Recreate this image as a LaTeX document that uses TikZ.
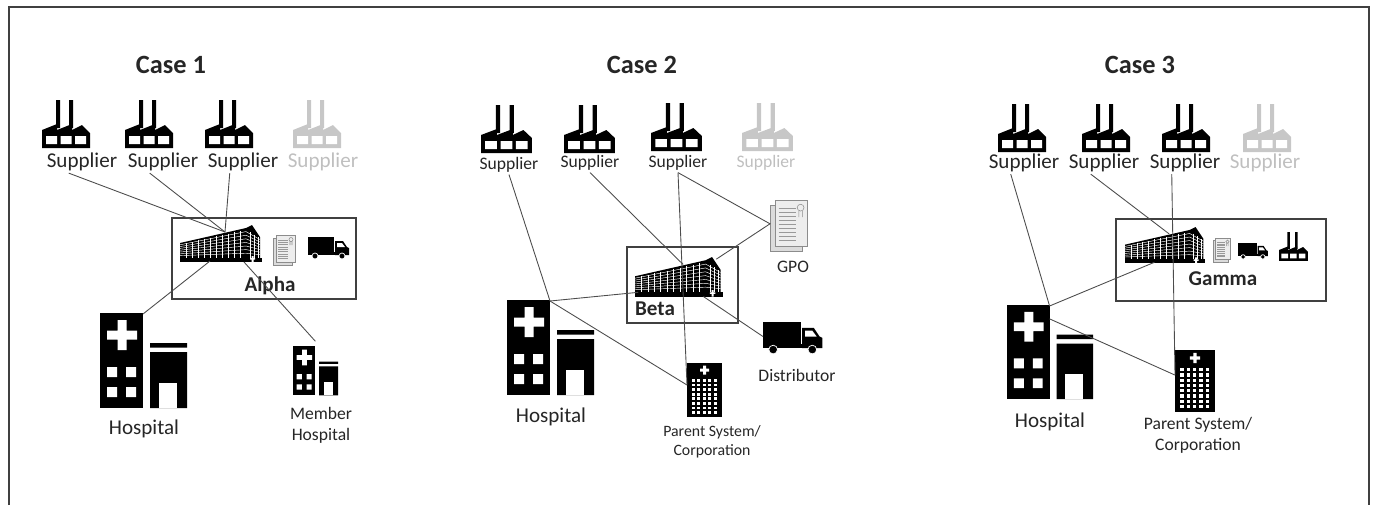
\documentclass[tikz,border=0pt]{standalone}
\usepackage{fontspec}
\setmainfont{Carlito}
\usepackage{tikz}

\tikzset{
  factory/.pic={
    \fill[#1] (0,48) -- (0,30) -- (15,24) -- (15,30) -- (30,24) -- (30,30) -- (40,25) -- (48,33) -- (48,48) -- cycle;
    \fill[#1] (14,0) rectangle (18,28) (27,0) rectangle (31,28);
    \fill[white] (4,36) rectangle (15,44) (18.5,36) rectangle (29.5,44) (33,36) rectangle (44,44);
  },
  building/.pic={
    \fill (0,18) -- (66,3) -- (72,0) -- (80,12) -- (80,34) -- (0,34) -- cycle;
    \fill (0,33) rectangle (82,37);
    \foreach \t in {0.12,0.24,...,0.96}
      \draw[white, line width=0.25pt] (0,{18+15*\t}) -- (66,{3+30*\t}) -- (80,{12+21*\t});
    \foreach \x in {6,12,...,60}
      \draw[white, line width=0.25pt] (\x,{19.5-15*\x/66}) -- (\x,33);
    \foreach \x in {70,74,78}
      \draw[white, line width=0.25pt] (\x,{4.5+9*(\x-66)/14}) -- (\x,33);
    \fill[white] (71.5,31) rectangle (73.5,37) (70,33) rectangle (75,34.5);
    \coordinate (-n) at (45,7);
    \coordinate (-ne) at (76,2);
    \coordinate (-sw) at (3,33);
    \coordinate (-s) at (30,36);
    \coordinate (-se) at (64,37);
  },
  doc/.pic={
    \filldraw[fill=black!14, draw=black!45, line width=0.3pt] (0,3) rectangle (19,30);
    \filldraw[fill=black!7, draw=black!45, line width=0.3pt] (3,0) rectangle (22,27);
    \foreach \k in {0,...,8}
      \draw[black!40, line width=0.3pt] (5,{5+2.3*\k}) -- (15,{5+2.3*\k});
    \draw[black!45, line width=0.3pt] (18,4.5) circle[radius=2] (17,6.5) -- (17,10) (19,6.5) -- (19,10);
    \coordinate (-w) at (0,14);
  },
  truck/.pic={
    \fill (0,0) rectangle (26,16);
    \fill (27,4) -- (35,4) -- (39,10) -- (41,11) -- (41,18) -- (27,18) -- cycle;
    \fill[white] (29,6) -- (34,6) -- (37,10) -- (29,10) -- cycle;
    \fill (0,15) rectangle (41,18);
    \filldraw[draw=white, line width=0.4pt] (7,19) circle[radius=3] (34,19) circle[radius=3];
    \coordinate (-w) at (0,10);
  },
  hospital/.pic={
    \fill (0,0) rectangle (43,95);
    \fill[white] (17.5,7) rectangle (26.5,37) (7,17.5) rectangle (37,26.5);
    \fill[white] (7,54) rectangle (17,64) (26,54) rectangle (36,64) (7,74) rectangle (17,84) (26,74) rectangle (36,84);
    \fill (50,30) rectangle (87,34.5) (50,39) rectangle (87,95);
    \fill[white] (59,70) rectangle (77,95);
    \coordinate (-ne) at (43,1);
    \coordinate (-e) at (43,14);
  },
  tower/.pic={
    \fill (0,0) rectangle (35,54);
    \fill[white] (16,2.5) rectangle (19,11.5) (13,5.5) rectangle (22,8.5);
    \foreach \i in {0,...,4}
      \foreach \j in {0,...,7}
        \fill[white] ({4.5+5.6*\i},{16+4.6*\j}) rectangle ++(3,2.8);
    \coordinate (-w) at (0,22);
  }
}

\begin{document}
\begin{tikzpicture}[x=0.02cm, y=-0.02cm,
    link/.style={draw=black!70, line width=0.5pt},
    box/.style={draw=black!75, line width=0.6pt},
    txt/.style={inner sep=1pt, text=black!85},
    faded/.style={inner sep=1pt, text=black!25},
    headtext/.style={font=\fontsize{15}{18}\selectfont\bfseries},
    bigtext/.style={font=\fontsize{12}{14}\selectfont},
    boldname/.style={font=\fontsize{12}{14}\selectfont\bfseries},
    smalltext/.style={font=\fontsize{10}{12}\selectfont}]
	\useasboundingbox (0,0) rectangle (1375,505);
	\draw[black!75, line width=0.8pt] (9,505) -- (9,7) -- (1369,7) -- (1369,505);

	% Case 1
	\node[txt, headtext] (a-title) at (171,65) {Case 1};
	\pic at (42,100) {factory=black};
	\pic at (125,100) {factory=black};
	\pic at (205,100) {factory=black};
	\pic at (293,100) {factory=black!22};
	\node[txt, bigtext] (a-s1) at (82,162) {Supplier};
	\node[txt, bigtext] (a-s2) at (163,162) {Supplier};
	\node[txt, bigtext] (a-s3) at (243,162) {Supplier};
	\node[faded, bigtext] (a-s4) at (323,162) {Supplier};
	\draw[box] (172,218) rectangle (356,299);
	\pic (a-bldg) at (180,225) {building};
	\pic (a-doc) at (273,235) {doc};
	\pic (a-truck) at (308,237) {truck};
	\node[txt, boldname] (a-name) at (270,286) {Alpha};
	\pic (a-hosp) at (100,313) {hospital};
	\node[txt, bigtext] (a-hl) at (144,429) {Hospital};
	\pic[scale=0.52] (a-mem) at (293,346) {hospital};
	\node[txt, smalltext, align=center] (a-ml) at (321,425) {Member\\Hospital};
	\draw[link] (a-s1.-140) -- (a-bldg-n);
	\draw[link] (a-s2.-140) -- (a-bldg-n);
	\draw[link] (a-s3.-140) -- (a-bldg-n);
	\draw[link] (a-hosp-ne) -- (a-bldg-s);
	\draw[link] ([yshift=3pt]a-mem-ne) -- (a-bldg-se);

	% Case 2
	\node[txt, headtext] (b-title) at (642,65) {Case 2};
	\pic[xscale=1.06] at (481,105) {factory=black};
	\pic[xscale=1.06] at (564,105) {factory=black};
	\pic[xscale=1.06] at (651,103) {factory=black};
	\pic[xscale=1.06] at (742,103) {factory=black!22};
	\node[txt, smalltext] (b-s1) at (509,165) {Supplier};
	\node[txt, smalltext] (b-s2) at (590,163) {Supplier};
	\node[txt, smalltext] (b-s3) at (678,163) {Supplier};
	\node[faded, smalltext] (b-s4) at (766,163) {Supplier};
	\pic[scale=1.7] (b-gpo) at (770,200) {doc};
	\node[txt, smalltext] (b-gl) at (793,267) {GPO};
	\draw[box] (627,247) rectangle (738,323);
	\pic[scale=1.07] (b-bldg) at (635,257) {building};
	\node[txt, boldname] (b-name) at (655,309) {Beta};
	\pic[scale=1.45] (b-truck) at (763,322) {truck};
	\node[txt, smalltext] (b-dl) at (797,375) {Distributor};
	\pic (b-hosp) at (507,300) {hospital};
	\node[txt, bigtext] (b-hl) at (551,417) {Hospital};
	\pic (b-tower) at (687,363) {tower};
	\node[txt, font=\fontsize{9}{11}\selectfont, align=center] (b-tl) at (712,442) {Parent System/\\Corporation};
	\draw[link] (b-s1.south) -- (b-hosp-ne);
	\draw[link] (b-s2.south) -- (b-bldg-n);
	\draw[link] (b-s3.south) -- (b-gpo-w) -- (b-bldg-ne);
	\draw[link] (b-s3.south) -- (b-tower-w);
	\draw[link] (b-hosp-ne) -- (b-bldg-sw);
	\draw[link] (b-hosp-ne) -- (b-tower-w);
	\draw[link] (b-bldg-se) -- (b-truck-w);

	% Case 3
	\node[txt, headtext] (c-title) at (1140,65) {Case 3};
	\pic at (998,104) {factory=black};
	\pic at (1082,104) {factory=black};
	\pic at (1162,104) {factory=black};
	\pic at (1243,104) {factory=black!22};
	\node[txt, bigtext] (c-s1) at (1024,163) {Supplier};
	\node[txt, bigtext] (c-s2) at (1104,163) {Supplier};
	\node[txt, bigtext] (c-s3) at (1185,163) {Supplier};
	\node[faded, bigtext] (c-s4) at (1265,163) {Supplier};
	\draw[box] (1116,219) rectangle (1326,301);
	\pic[scale=0.98] (c-bldg) at (1125,227) {building};
	\pic[scale=0.8] (c-doc) at (1213,238) {doc};
	\pic[scale=0.73] (c-truck) at (1238,243) {truck};
	\pic[scale=0.6] at (1279,232) {factory=black};
	\node[txt, boldname] (c-name) at (1223,279) {Gamma};
	\pic[scale=0.99] (c-hosp) at (1007,305) {hospital};
	\node[txt, bigtext] (c-hl) at (1050,422) {Hospital};
	\pic[scale=1.14] (c-tower) at (1175,350) {tower};
	\node[txt, smalltext, align=center] (c-tl) at (1198,435) {Parent System/\\Corporation};
	\draw[link] (c-s1.-140) -- (c-hosp-ne);
	\draw[link] (c-s2.-140) -- (c-bldg-n);
	\draw[link] (c-s3.-140) -- (c-tower-w);
	\draw[link] (c-hosp-ne) -- (c-bldg-s);
	\draw[link] (c-hosp-e) -- (c-tower-w);
\end{tikzpicture}
\end{document}
